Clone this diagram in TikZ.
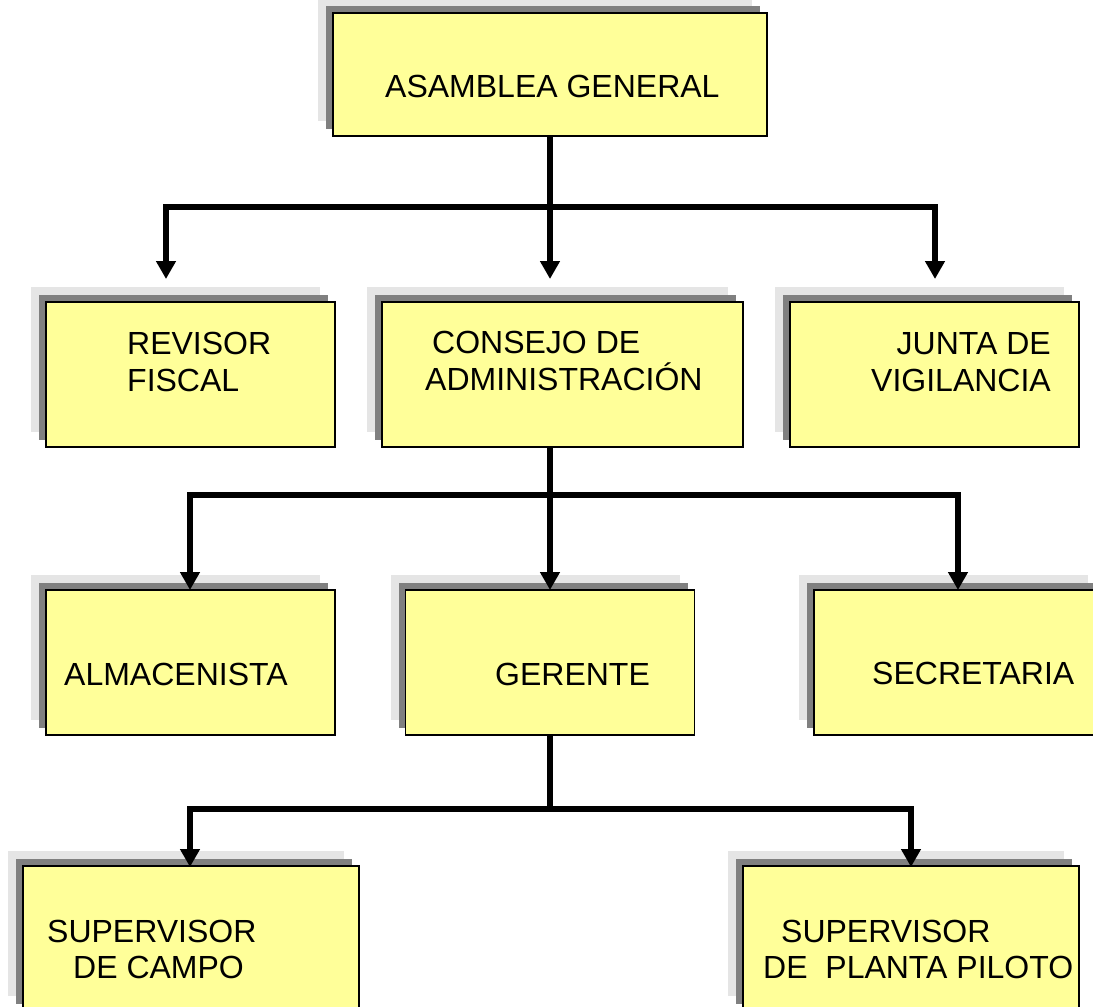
\documentclass[tikz,border=0pt]{standalone}
\usepackage{fontspec}
\setmainfont{Liberation Sans}
\usetikzlibrary{arrows.meta,shadows}
\definecolor{boxyellow}{RGB}{255,255,153}
\definecolor{shdark}{RGB}{128,128,128}
\definecolor{shlight}{RGB}{229,229,229}
\tikzset{
  orgbox/.style={draw=black, line width=1.8pt, fill=boxyellow, inner sep=0pt,
    general shadow={fill=shlight, shadow xshift=-15pt, shadow yshift=15pt},
    general shadow={fill=shdark, shadow xshift=-7pt, shadow yshift=7pt}},
  lbl/.style={inner sep=0pt, anchor=base west, font=\fontsize{32}{37}\selectfont},
  lblr/.style={inner sep=0pt, anchor=base east, font=\fontsize{32}{37}\selectfont},
  conn/.style={line width=6.5pt, draw=black},
  arr/.style={conn, -{Triangle[width=19pt,length=18pt]}}
}
\begin{document}
\begin{tikzpicture}[x=1pt,y=-1pt]
\useasboundingbox (0,0) rectangle (1093,1007);
\clip (0,0) rectangle (1093,1007);
% boxes
\node[orgbox, minimum width=434pt, minimum height=123pt] (A) at (550,74.5) {};
\node[orgbox, minimum width=289pt, minimum height=145pt] (R) at (190.5,374.5) {};
\node[orgbox, minimum width=361pt, minimum height=145pt] (C) at (562.5,374.5) {};
\node[orgbox, minimum width=289pt, minimum height=145pt] (J) at (934.5,374.5) {};
\node[orgbox, minimum width=289pt, minimum height=145pt] (Al) at (190.5,662.5) {};
\node[orgbox, minimum width=289pt, minimum height=145pt] (G) at (550,662.5) {};
\node[orgbox, minimum width=289pt, minimum height=145pt] (S) at (958.5,662.5) {};
\node[orgbox, minimum width=336pt, minimum height=145pt] (SC) at (191,938.5) {};
\node[orgbox, minimum width=336pt, minimum height=145pt] (SP) at (911,938.5) {};
% labels
\node[lbl] (tA) at (385,97) {ASAMBLEA GENERAL};
\node[lbl] (tR1) at (127,354) {REVISOR};
\node[lbl] (tR2) at (127,391) {FISCAL};
\node[lbl] (tC1) at (432,353) {CONSEJO DE};
\node[lbl] (tC2) at (425,390) {ADMINISTRACIÓN};
\node[lblr] (tJ1) at (1051,354) {JUNTA DE};
\node[lblr] (tJ2) at (1051,391) {VIGILANCIA};
\node[lbl] (tAl) at (64,685) {ALMACENISTA};
\node[lbl] (tG) at (495,685) {GERENTE};
\node[lbl] (tS) at (872,684) {SECRETARIA};
\node[lbl] (tSC1) at (47,942) {SUPERVISOR};
\node[lbl] (tSC2) at (73,978) {DE CAMPO};
\node[lbl] (tSP1) at (781,942) {SUPERVISOR};
\node[lbl] (tSP2) at (763,978) {DE\ \ PLANTA PILOTO};
% connector coordinates
\coordinate (j1) at (550,207);
\coordinate (aR) at (166,279);
\coordinate (aC) at (550,279);
\coordinate (aJ) at (935,279);
\coordinate (j2) at (550,495);
\coordinate (aAl) at (190,590);
\coordinate (aG) at (550,590);
\coordinate (aS) at (958,590);
\coordinate (j3) at (550,809);
\coordinate (aSC) at (190,867);
\coordinate (aSP) at (911,867);
% connectors
\draw[conn] (A.south) -- (j1);
\draw[arr] (j1) -| (aR);
\draw[arr] (j1) -- (aC);
\draw[arr] (j1) -| (aJ);
\draw[conn] (j2 |- C.south) -- (j2);
\draw[arr] (j2) -| (aAl);
\draw[arr] (j2) -- (aG);
\draw[arr] (j2) -| (aS);
\draw[conn] (G.south) -- (j3);
\draw[arr] (j3) -| (aSC);
\draw[arr] (j3) -| (aSP);
\end{tikzpicture}
\end{document}
